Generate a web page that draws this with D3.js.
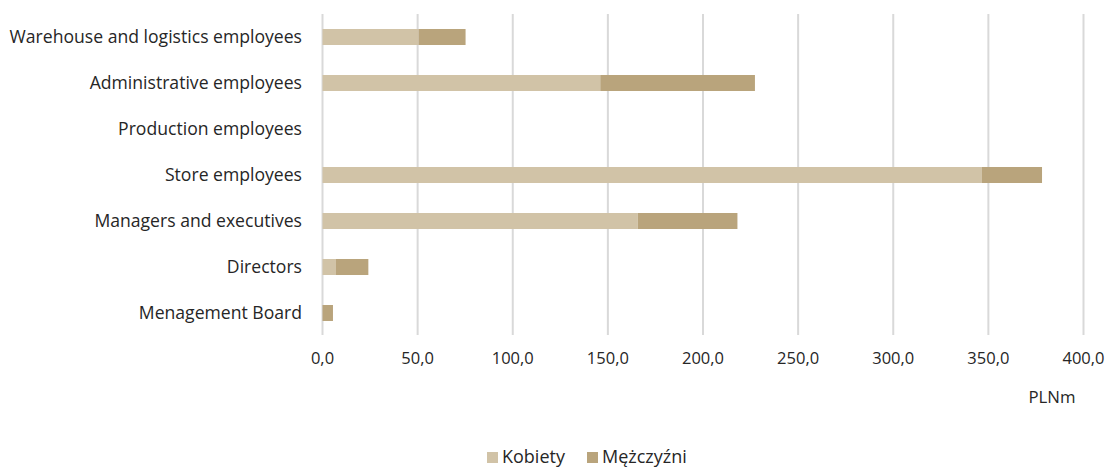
<!DOCTYPE html>
<html>
<head>
<meta charset="utf-8">
<script src="https://cdn.jsdelivr.net/npm/d3@7"></script>
<style>
  body { margin: 0; background: #fff; }
  text { font-family: "Open Sans", "Noto Sans", sans-serif; fill: #262626; }
</style>
</head>
<body>
<svg width="1109" height="469"></svg>
<script>
//	data
var categories = ["Warehouse and logistics employees", "Administrative employees", "Production employees",
    "Store employees", "Managers and executives", "Directors", "Menagement Board"];
var women = [50.5, 146.0, 0, 346.4, 165.7, 7.1, 0];
var men = [24.7, 81.3, 0, 31.8, 52.4, 17.0, 5.5];
var seriesNames = ["Kobiety", "Mężczyźni"];
var colors = ["#d1c3a7", "#b9a47c"];
var ticks = [0, 50, 100, 150, 200, 250, 300, 350, 400];

var svg = d3.select("svg"),
        width = +svg.attr("width"),
        height = +svg.attr("height");

var x = d3.scaleLinear().domain([0, 400]).range([322.5, 1083.5]);
var y = d3.scaleBand().domain(categories).range([14, 336]).paddingInner(0.652).paddingOuter(0.326);

var fmt = function (d) { return d3.format(".1f")(d).replace(".", ","); };

//	gridlines
svg.append("g").selectAll("line")
        .data(ticks)
        .enter().append("line")
        .attr("x1", function (d) { return x(d); })
        .attr("x2", function (d) { return x(d); })
        .attr("y1", 14)
        .attr("y2", 335)
        .attr("stroke", "#d9d9d9")
        .attr("stroke-width", 2);

//	stacked bars
var rows = categories.map(function (c, i) {
    return {cat: c, Kobiety: women[i], "Mężczyźni": men[i]};
});
var stack = d3.stack().keys(seriesNames)(rows);

svg.append("g").selectAll("g")
        .data(stack)
        .enter().append("g")
        .attr("fill", function (d, i) { return colors[i]; })
        .selectAll("rect")
        .data(function (d) { return d; })
        .enter().append("rect")
        .filter(function (d) { return d[1] > d[0]; })
        .attr("x", function (d) { return x(d[0]); })
        .attr("y", function (d) { return y(d.data.cat); })
        .attr("width", function (d) { return x(d[1]) - x(d[0]); })
        .attr("height", y.bandwidth());

//	category labels
svg.append("g").selectAll("text")
        .data(categories)
        .enter().append("text")
        .attr("x", 302)
        .attr("y", function (d) { return y(d) + y.bandwidth() / 2; })
        .attr("dy", "0.35em")
        .attr("text-anchor", "end")
        .style("font-size", "17.6px")
        .text(function (d) { return d; });

//	x axis tick labels
svg.append("g").selectAll("text")
        .data(ticks)
        .enter().append("text")
        .attr("x", function (d) { return x(d); })
        .attr("y", 358)
        .attr("dy", "0.35em")
        .attr("text-anchor", "middle")
        .style("font-size", "16.5px")
        .text(fmt);

svg.append("text")
        .attr("x", 1052)
        .attr("y", 397)
        .attr("dy", "0.35em")
        .attr("text-anchor", "middle")
        .style("font-size", "16.8px")
        .text("PLNm");

//	legend
var legend = svg.append("g").selectAll("g")
        .data(seriesNames)
        .enter().append("g")
        .attr("transform", function (d, i) { return "translate(" + [487, 587][i] + ",457)"; });
legend.append("rect")
        .attr("x", 0)
        .attr("y", -5)
        .attr("width", 11)
        .attr("height", 11)
        .attr("fill", function (d, i) { return colors[i]; });
legend.append("text")
        .attr("x", 15)
        .attr("y", 0)
        .attr("dy", "0.35em")
        .style("font-size", "18px")
        .text(function (d) { return d; });
</script>
</body>
</html>
